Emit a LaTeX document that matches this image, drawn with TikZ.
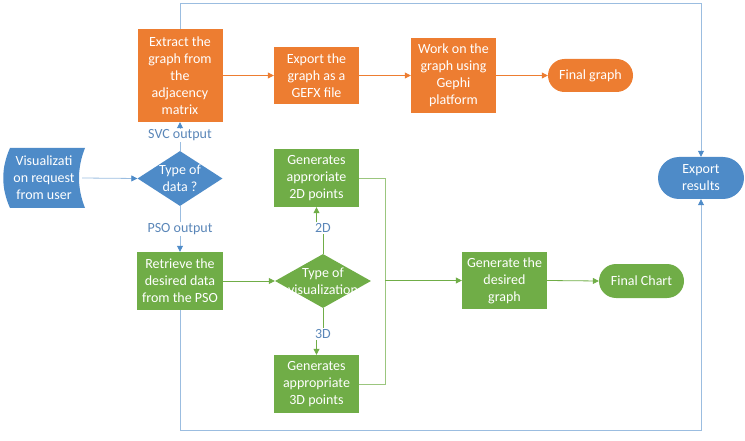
\documentclass[tikz,border=0pt]{standalone}
\usepackage{fontspec}
\setmainfont{Carlito}
\usetikzlibrary{shapes.geometric,arrows.meta,calc}
\definecolor{org}{HTML}{ED7D31}
\definecolor{grn}{HTML}{70AD47}
\definecolor{blu}{HTML}{4E8BC8}
\definecolor{bline}{HTML}{9BBDE0}
\definecolor{btxt}{HTML}{5A86B8}
\begin{document}
\begin{tikzpicture}[x=1pt,y=-1pt,
  font=\fontsize{14}{17}\selectfont,
  box/.style={rectangle,inner sep=0pt,align=center,text=white,minimum width=85pt},
  obox/.style={box,fill=org},
  gbox/.style={box,fill=grn},
  pill/.style={box,rounded corners=#1},
  dia/.style={diamond,inner sep=0pt},
  lab/.style={text=btxt,inner sep=1pt},
  tip/.style={-{Triangle[length=6pt,width=6pt]}},
  oar/.style={draw=org,line width=0.8pt,tip},
  gar/.style={draw=grn,line width=0.8pt,tip},
  bar/.style={draw=bline,line width=0.8pt,-{Triangle[length=6pt,width=6pt,color=blu]}},
  bln/.style={draw=bline,line width=0.8pt}
]
\useasboundingbox (0,0) rectangle (745,441);

% stored-data shape
\fill[blu] (10,148) -- (85,148) .. controls (77,168) and (77,188) .. (85,208) -- (10,208) .. controls (1,188) and (1,168) .. (10,148) -- cycle;
\node[box,minimum width=76pt,minimum height=60pt] (vis) at (44,178) {Visualizati\\on request\\from user};

\node[obox,minimum height=93pt] (extract) at (180,75.5) {Extract the\\graph from\\the\\adjacency\\matrix};
\node[obox,minimum height=57pt] (export) at (316.5,75.5) {Export the\\graph as a\\GEFX file};
\node[obox,minimum height=75pt] (work) at (453.5,75.5) {Work on the\\graph using\\Gephi\\platform};
\node[pill=16.5pt,fill=org,minimum height=33pt] (fgraph) at (590.5,75.5) {Final graph};

\node[dia,fill=blu,minimum width=85pt,minimum height=55pt,
  label={[text=white,align=center]center:Type of\\data ?}] (tdata) at (180,178.5) {};
\node[lab] (svc) at (180,135) {SVC output};
\node[lab] (pso) at (180,229) {PSO output};

\node[gbox,minimum height=58pt] (gen2d) at (316.5,178) {Generates\\approriate\\2D points};
\node[gbox,minimum width=86pt,minimum height=58pt] (retr) at (180,281) {Retrieve the\\desired data\\from the PSO};
\node[dia,fill=grn,minimum width=96pt,minimum height=54pt,
  label={[text=white,align=center]center:Type of\\visualization}] (tvis) at (323,281) {};
\node[lab] (l2d) at (323,228) {2D};
\node[lab] (l3d) at (323,334) {3D};
\node[gbox,minimum height=58pt] (gen3d) at (316.5,384) {Generates\\appropriate\\3D points};
\node[gbox,minimum height=57pt] (ggraph) at (504.5,280.5) {Generate the\\desired\\graph};
\node[pill=17pt,fill=grn,minimum height=34pt] (fchart) at (641.5,281) {Final Chart};
\node[pill=21pt,fill=blu,minimum width=86pt,minimum height=42pt] (expres) at (701,178) {Export\\results};

% connectors
\draw[bar] (vis.east) -- (tdata.west);
\draw[bln] (tdata.north) -- (svc.south);
\draw[bar] (svc.north) -- (extract.south);
\draw[bln] (tdata.south) -- (pso.north);
\draw[bar] (pso.south) -- (retr.north);

\draw[oar] (extract.east) -- (export.west);
\draw[oar] (export.east) -- (work.west);
\draw[oar] (work.east) -- (fgraph.west);

\draw[bar] (extract.north) -- ++(0,-25) -| (expres.north);
\draw[bar] (retr.south) -- ++(0,120) -| (expres.south);

\draw[gar] (retr.east) -- (tvis.west);
\draw[draw=grn,line width=0.8pt] (tvis.north) -- (l2d.south);
\draw[gar] (gen2d.south |- l2d.north) -- (gen2d.south);
\draw[draw=grn,line width=0.8pt] (tvis.south) -- (l3d.north);
\draw[gar] (gen3d.north |- l3d.south) -- (gen3d.north);

\coordinate (mj) at (385,280.5);
\draw[draw=grn!70!white,line width=0.8pt] (gen2d.east) -| (mj);
\draw[draw=grn!70!white,line width=0.8pt] (gen3d.east) -| (mj);
\draw[gar] (mj) -- (ggraph.west);
\draw[gar] (ggraph.east) -- (fchart.west);
\end{tikzpicture}
\end{document}
